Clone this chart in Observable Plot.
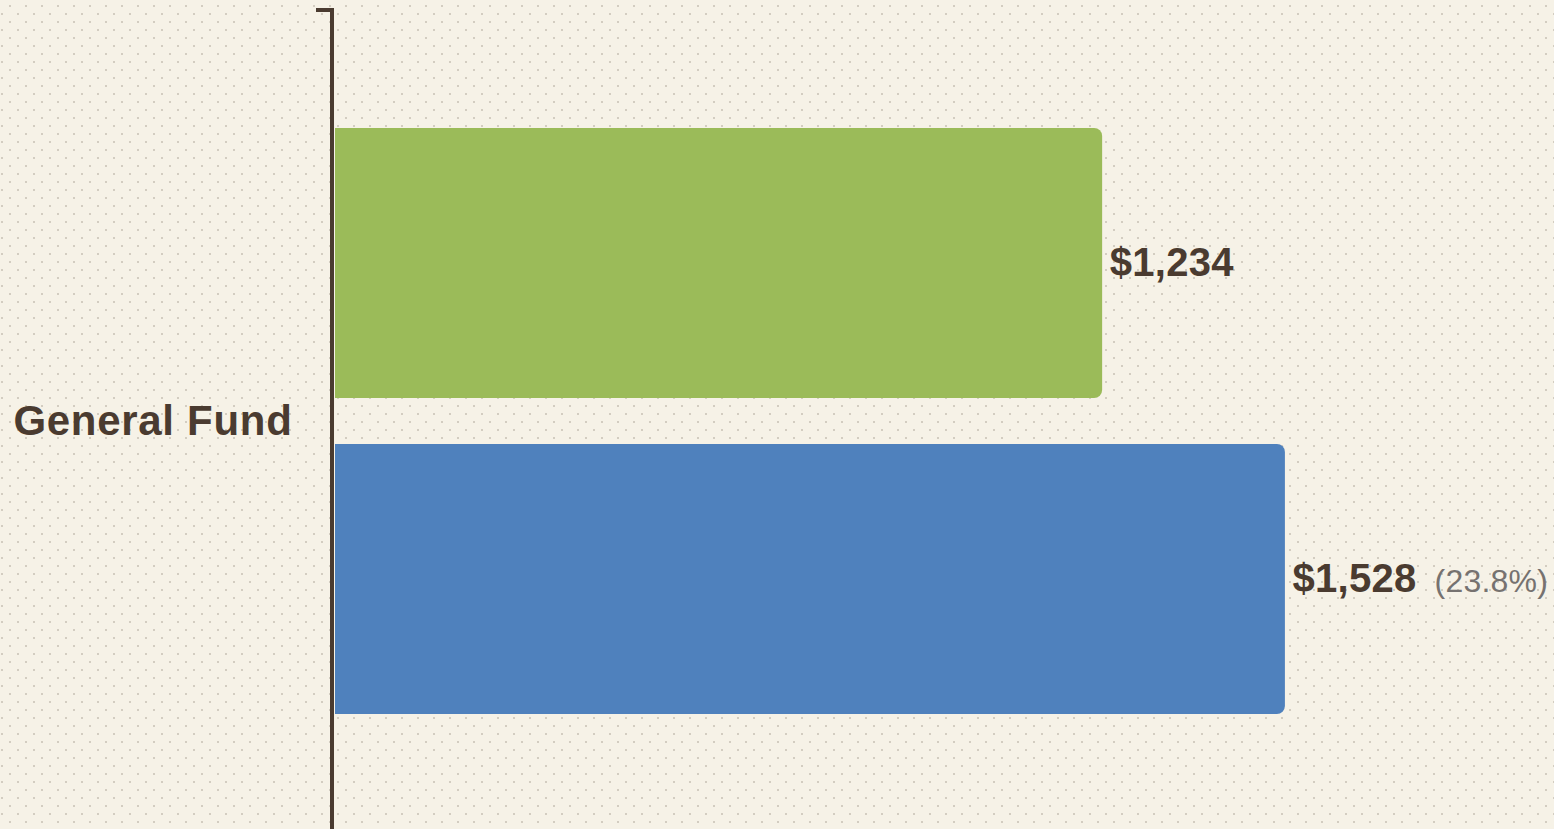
<!DOCTYPE html>
<html>
<head>
<meta charset="utf-8">
<script src="https://cdn.jsdelivr.net/npm/d3@7"></script>
<script src="https://cdn.jsdelivr.net/npm/@observablehq/plot@0.6"></script>
<style>
  html, body {
    margin: 0;
    padding: 0;
    overflow: hidden;
    width: 1554px;
    height: 829px;
    background-color: #f6f2e7;
    background-image: url("data:image/svg+xml,%3Csvg xmlns='http://www.w3.org/2000/svg' width='16' height='16'%3E%3Crect x='9' y='5' width='2' height='2' fill='%23d3cdc1'/%3E%3Crect x='1' y='13' width='2' height='2' fill='%23d3cdc1'/%3E%3C/svg%3E");
    background-size: 16px 16px;
  }
  #chart svg { display: block; background: transparent; }
  g[aria-label="fy-axis tick label"] text { letter-spacing: 0.7px; }
  g[aria-label="text"] text { letter-spacing: 0.3px; }
</style>
</head>
<body>
<div id="chart"></div>
<script>
// ---- data ----
const categories = ["General Fund"];
const seriesNames = ["Prior Year", "Current Year"];
const values = [1234, 1528];
const valueLabels = ["$1,234", "$1,528"];
const changeLabels = ["", "(23.8%)"];
const seriesColors = ["#9bbb59", "#4f81bd"];

const rows = seriesNames.map((s, i) => ({
  category: categories[0],
  series: s,
  value: values[i],
  label: valueLabels[i],
  change: changeLabels[i]
}));

const ink = "#4a3b30";
const fontFamily = "'Liberation Sans', Arial, Helvetica, sans-serif";

// axis domain line with a top outer tick
function axisDomain(index, scales, values, dimensions) {
  const {marginTop, height} = dimensions;
  const x0 = scales.x(0);
  const p = document.createElementNS("http://www.w3.org/2000/svg", "path");
  p.setAttribute("d", `M${x0 - 19},${marginTop}H${x0 - 3}V${height}`);
  p.setAttribute("fill", "none");
  p.setAttribute("stroke", ink);
  p.setAttribute("stroke-width", 4);
  return p;
}

const chart = Plot.plot({
  width: 1554,
  height: 842,
  marginLeft: 335,
  marginRight: 100,
  marginTop: 10,
  marginBottom: 10,
  style: {background: "transparent", fontFamily, color: ink, overflow: "visible"},
  x: {domain: [0, 1800], axis: null},
  fy: {domain: categories, padding: 0, label: null, round: false},
  y: {domain: seriesNames, paddingInner: 0.1456, paddingOuter: 0.3734, round: false, axis: null},
  color: {domain: seriesNames, range: seriesColors},
  marks: [
    Plot.barX(rows, {
      fy: "category",
      y: "series",
      x: "value",
      fill: "series",
      rx: 8,
      insetLeft: -12,
      clip: "frame"
    }),
    Plot.text(rows, {
      fy: "category",
      y: "series",
      x: "value",
      text: "label",
      dx: 7,
      textAnchor: "start",
      fontSize: 40,
      fontWeight: "bold",
      fill: ink,
      render(index, scales, vals, dims, context, next) {
        const g = next(index, scales, vals, dims, context);
        const texts = g.querySelectorAll("text");
        texts.forEach((t, k) => {
          const d = rows[index[k]];
          if (d && d.change) {
            const ts = document.createElementNS("http://www.w3.org/2000/svg", "tspan");
            ts.setAttribute("dx", 18);
            ts.setAttribute("font-size", 32);
            ts.setAttribute("font-weight", "normal");
            ts.setAttribute("fill", "#767270");
            ts.style.letterSpacing = "0.2px";
            ts.textContent = d.change;
            t.appendChild(ts);
          }
        });
        return g;
      }
    }),
    Plot.axisFy({
      anchor: "left",
      tickSize: 0,
      tickPadding: 43,
      fontSize: 42,
      fontWeight: "bold",
      fill: ink,
      label: null
    }),
    axisDomain
  ]
});

document.getElementById("chart").appendChild(chart);
</script>
</body>
</html>
